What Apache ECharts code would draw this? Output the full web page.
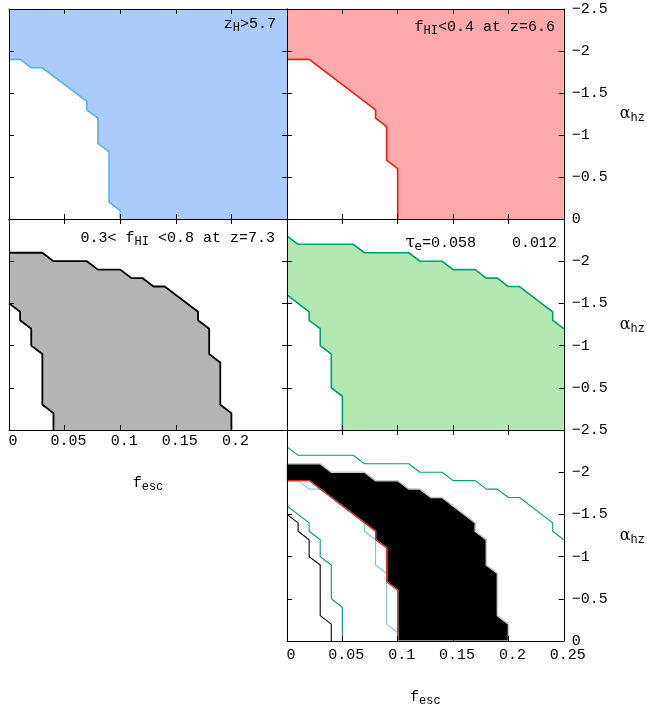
<!DOCTYPE html>
<html>
<head>
<meta charset="utf-8">
<script src="https://cdn.jsdelivr.net/npm/echarts@6/dist/echarts.min.js"></script>
</head>
<body style="margin:0">
<div id="container" style="width:647px;height:709px;"></div>
<script>
// axis ranges
var xRange = [0, 0.25];
var yRange = [-2.5, 0];

// contours, [f_esc, alpha_hz]
var zhLine = [[0,-1.9],[0.01,-1.9],[0.02,-1.8],[0.03,-1.8],[0.07,-1.4],[0.07,-1.3],[0.08,-1.2],[0.08,-0.9],[0.09,-0.8],[0.09,-0.2],[0.1,-0.1],[0.1,0]];
var fhi66Line = [[0,-1.9],[0.02,-1.9],[0.08,-1.3],[0.08,-1.2],[0.09,-1.1],[0.09,-0.7],[0.1,-0.6],[0.1,0]];
var fhi73Upper = [[0,-2.1],[0.03,-2.1],[0.04,-2.0],[0.07,-2.0],[0.08,-1.9],[0.1,-1.9],[0.11,-1.8],[0.12,-1.8],[0.13,-1.7],[0.14,-1.7],[0.17,-1.4],[0.17,-1.3],[0.18,-1.2],[0.18,-0.9],[0.19,-0.8],[0.19,-0.3],[0.2,-0.2],[0.2,0]];
var fhi73Lower = [[0,-1.5],[0.01,-1.4],[0.01,-1.3],[0.02,-1.2],[0.02,-1.0],[0.03,-0.9],[0.03,-0.3],[0.04,-0.2],[0.04,0]];
var tauUpper = [[0,-2.3],[0.01,-2.2],[0.06,-2.2],[0.07,-2.1],[0.11,-2.1],[0.12,-2.0],[0.14,-2.0],[0.15,-1.9],[0.17,-1.9],[0.18,-1.8],[0.19,-1.8],[0.2,-1.7],[0.21,-1.7],[0.24,-1.4],[0.24,-1.3],[0.25,-1.2]];
var tauLower = [[0,-1.6],[0.02,-1.4],[0.02,-1.3],[0.03,-1.2],[0.03,-1.0],[0.04,-0.9],[0.04,-0.5],[0.05,-0.4],[0.05,0]];

// filled regions built from the contours and the axis corners
var zhArea = zhLine.concat([[xRange[1],yRange[1]],[xRange[1],yRange[0]],[xRange[0],yRange[0]]]);
var fhi66Area = fhi66Line.concat([[xRange[1],yRange[1]],[xRange[1],yRange[0]],[xRange[0],yRange[0]]]);
var fhi73Area = fhi73Upper.concat(fhi73Lower.slice().reverse());
var tauArea = tauUpper.concat([[xRange[1],yRange[1]]], tauLower.slice().reverse());
var allArea = fhi66Line.concat(fhi73Upper.slice().reverse());

var mono = 'Liberation Mono';
var serif = 'DejaVu Serif';

// panel layout: 0 top-left, 1 top-right, 2 mid-left, 3 mid-right, 4 bottom-right
var panels = [
    {left: 9,   top: 9,   width: 278, height: 210, xLab: false, yLab: 'none'},
    {left: 287, top: 9,   width: 277, height: 210, xLab: false, yLab: 'all'},
    {left: 9,   top: 219, width: 278, height: 211, xLab: true,  yLab: 'none', noMaxX: true, labMargin: 4, nameGap: 43},
    {left: 287, top: 219, width: 277, height: 211, xLab: false, yLab: 'inner'},
    {left: 287, top: 430, width: 277, height: 211, xLab: true,  yLab: 'all', labMargin: 7, nameGap: 46}
];

var subRich = {
    m: {fontFamily: mono, fontSize: 15, fontWeight: 'normal', color: '#000'},
    g: {fontFamily: serif, fontSize: 16, fontWeight: 'normal', color: '#000'},
    s: {fontFamily: mono, fontSize: 12, fontWeight: 'normal', color: '#000', padding: [8, 0, 0, 0]},
    e: {fontFamily: 'DejaVu Sans', fontSize: 12, fontWeight: 'normal', color: '#000', padding: [8, 0, 0, 0]}
};

var grids = [], xAxes = [], yAxes = [];
panels.forEach(function (p, i) {
    grids.push({left: p.left, top: p.top, width: p.width, height: p.height, containLabel: false});
    ['bottom', 'top'].forEach(function (pos) {
        var showLab = pos === 'bottom' && p.xLab;
        var ax = {
            type: 'value', gridIndex: i, position: pos, min: xRange[0], max: xRange[1], interval: 0.05, z: 5,
            axisLine: {show: true, onZero: false, lineStyle: {color: '#000', width: 1}},
            axisTick: {show: true, inside: true, length: 5, lineStyle: {color: '#000'}},
            splitLine: {show: false},
            axisLabel: {show: showLab, color: '#000', fontFamily: mono, fontSize: 15, margin: p.labMargin || 4,
                padding: [0, 0, 0, 8], showMaxLabel: !p.noMaxX}
        };
        if (showLab) {
            ax.name = '{m|f}{s|esc}';
            ax.nameLocation = 'middle';
            ax.nameGap = p.nameGap;
            ax.nameTextStyle = {rich: subRich};
        }
        xAxes.push(ax);
    });
    ['left', 'right'].forEach(function (pos) {
        var showLab = pos === 'right' && p.yLab !== 'none';
        var ay = {
            type: 'value', gridIndex: i, position: pos, min: yRange[0], max: yRange[1], interval: 0.5, inverse: true, z: 5,
            axisLine: {show: true, onZero: false, lineStyle: {color: '#000', width: 1}},
            axisTick: {show: true, inside: true, length: 5, lineStyle: {color: '#000'}},
            splitLine: {show: false},
            axisLabel: {show: showLab, color: '#000', fontFamily: mono, fontSize: 15, margin: 8,
                padding: [4, 0, 0, 0],
                showMinLabel: p.yLab === 'all', showMaxLabel: p.yLab === 'all',
                formatter: function (v) { return String(v).replace('-', '\u2212'); }}
        };
        if (showLab) {
            ay.name = '{g|\u03b1}{s|hz}';
            ay.nameLocation = 'middle';
            ay.nameGap = 56;
            ay.nameRotate = 0;
            ay.nameTextStyle = {rich: subRich, align: 'left'};
        }
        yAxes.push(ay);
    });
});

function areaSeries(i, pts, fill, stroke, w) {
    return {
        type: 'custom', xAxisIndex: i * 2, yAxisIndex: i * 2, data: [[0, 0]], silent: true, z: 1,
        renderItem: function (params, api) {
            var c = pts.map(function (d) { return api.coord(d); });
            return {type: 'polygon', shape: {points: c},
                style: {fill: fill, stroke: stroke || null, lineWidth: w || 0}};
        }
    };
}
function lineSeries(i, pts, color, w) {
    return {
        type: 'line', xAxisIndex: i * 2, yAxisIndex: i * 2, data: pts, symbol: 'none', silent: true, z: 3,
        lineStyle: {color: color, width: w}
    };
}

var blue = '#56b4e9', red = '#e8200f', green = '#009e73';
var series = [
    areaSeries(0, zhArea, '#aaccfc'), lineSeries(0, zhLine, blue, 1.6),
    areaSeries(1, fhi66Area, '#ffaaaa'), lineSeries(1, fhi66Line, red, 1.6),
    areaSeries(2, fhi73Area, '#b4b4b4'), lineSeries(2, fhi73Upper, '#000', 1.8), lineSeries(2, fhi73Lower, '#000', 1.8),
    areaSeries(3, tauArea, '#b1e7b1'), lineSeries(3, tauUpper, green, 1.6), lineSeries(3, tauLower, green, 1.6),
    areaSeries(4, allArea, '#000', '#c8c8c8', 1.5),
    lineSeries(4, tauUpper, green, 1.1), lineSeries(4, tauLower, green, 1.1),
    lineSeries(4, fhi73Lower, '#000', 1.1), lineSeries(4, zhLine, '#7cc4f0', 1.1),
    lineSeries(4, fhi66Line, red, 1.1)
];

var titles = [
    {text: '{m|z}{s|H}{m|>5.7}', right: 366, top: 9},
    {text: '{m|f}{s|HI}{m|<0.4 at z=6.6}', right: 87, top: 12},
    {text: '{m|0.3< f}{s|HI}{m| <0.8 at z=7.3}', right: 367, top: 223},
    {text: '{g|\u03c4}{e|e}{m|=0.058    0.012}', right: 85, top: 228}
].map(function (t) {
    t.textStyle = {rich: subRich, fontWeight: 'normal'};
    return t;
});

var dom = document.getElementById('container');
var myChart = echarts.init(dom);
var option = {
    animation: false,
    backgroundColor: '#fff',
    title: titles,
    grid: grids,
    xAxis: xAxes,
    yAxis: yAxes,
    series: series
};
myChart.setOption(option);
</script>
</body>
</html>
